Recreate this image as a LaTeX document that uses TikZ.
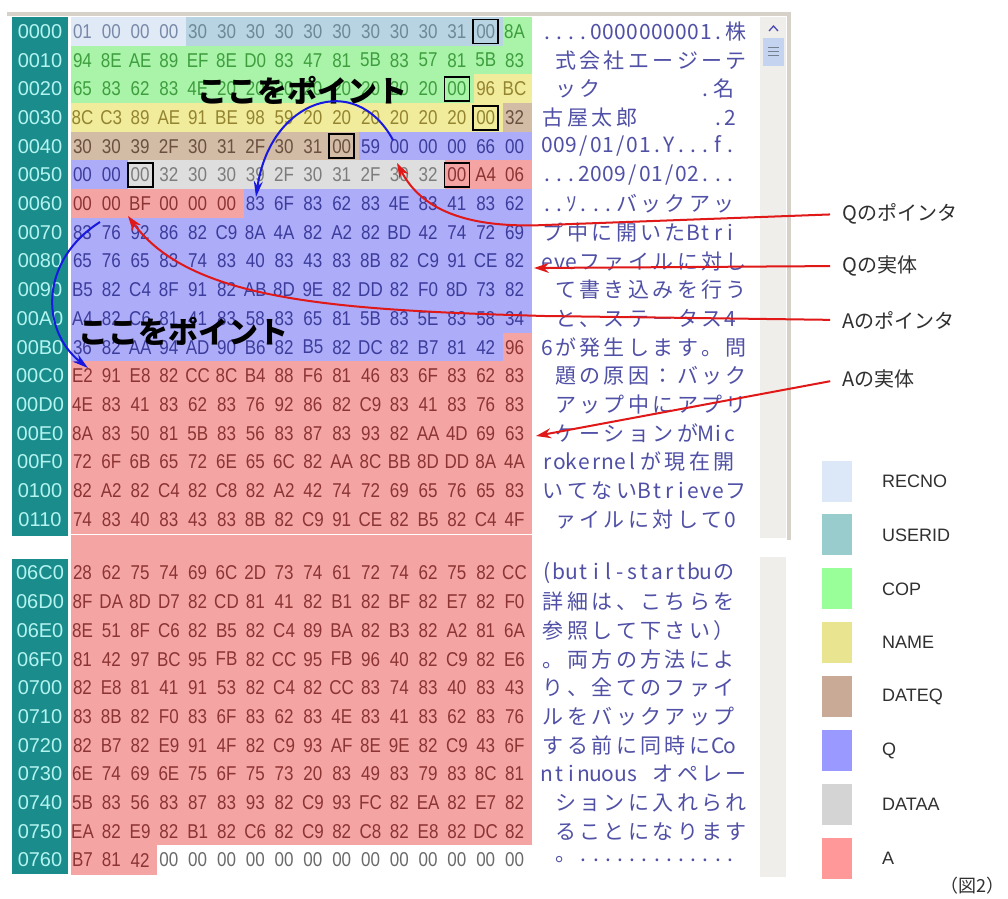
\documentclass[tikz,border=0pt]{standalone}
\usepackage{fontspec}
\usepackage{graphicx}
\setmainfont{Liberation Sans}
\newfontfamily\cjk{Noto Sans CJK JP}
\usetikzlibrary{arrows.meta}

\definecolor{recnoBG}{HTML}{E0EAF6}
\definecolor{useridBG}{HTML}{B8D4E2}
\definecolor{copBG}{HTML}{AAF4AA}
\definecolor{nameBG}{HTML}{F0EC9C}
\definecolor{dateqBG}{HTML}{D2BCA6}
\definecolor{qBG}{HTML}{ACACF8}
\definecolor{dataaBG}{HTML}{DEDEDE}
\definecolor{aBG}{HTML}{F5A4A4}
\definecolor{recnoFG}{HTML}{7888A8}
\definecolor{useridFG}{HTML}{6E8898}
\definecolor{copFG}{HTML}{3E9E3E}
\definecolor{nameFG}{HTML}{948430}
\definecolor{dateqFG}{HTML}{6A5040}
\definecolor{qFG}{HTML}{3C3C9C}
\definecolor{dataaFG}{HTML}{7C7C7C}
\definecolor{aFG}{HTML}{8C3434}
\definecolor{zeroFG}{HTML}{6A6A6A}
\definecolor{addrBG}{HTML}{1A8C8C}
\definecolor{addrFG}{HTML}{B4F4F0}
\definecolor{txtC}{HTML}{5050A6}
\definecolor{lblC}{HTML}{303030}
\definecolor{frameC}{HTML}{D6D2CA}
\definecolor{sbC}{HTML}{F0EEEA}
\definecolor{thumbC}{HTML}{C4D4F0}
\definecolor{arrRed}{HTML}{E01818}
\definecolor{arrBlue}{HTML}{1818E0}
\definecolor{swRecno}{HTML}{DCE8F8}
\definecolor{swUserid}{HTML}{99CCCC}
\definecolor{swCop}{HTML}{99FF99}
\definecolor{swName}{HTML}{E8E490}
\definecolor{swDateq}{HTML}{C8AA96}
\definecolor{swQ}{HTML}{9999FF}
\definecolor{swDataa}{HTML}{D4D4D4}
\definecolor{swA}{HTML}{FF9999}

\newcommand\hexsz{\fontsize{20}{20}\selectfont}
\newcommand\hx[1]{\scalebox{0.85}[1]{#1}}
\newlength\hwid \setlength\hwid{12.2pt}
\newlength\fwid \setlength\fwid{24.4pt}
\makeatletter
\def\gt@end{\gt@end}
\newcommand\gridtext[1]{\gt@#1\gt@end}
\def\gt@#1{\ifx#1\gt@end\else\gt@cell{#1}\expandafter\gt@\fi}
\def\gt@cell#1{\ifx#1_\hbox to\hwid{}\else\ifnum`#1<"2000 \hbox to\hwid{\hss#1\hss}\else\ifnum`#1>"FF60 \hbox to\hwid{\hss#1\hss}\else\hbox to\fwid{\hss#1\hss}\fi\fi\fi}
\makeatother

\newcommand\cellstyle[1]{%
  \ifnum#1<4 \def\bgc{recnoBG}\def\fgc{recnoFG}%
  \else\ifnum#1<15 \def\bgc{useridBG}\def\fgc{useridFG}%
  \else\ifnum#1<46 \def\bgc{copBG}\def\fgc{copFG}%
  \else\ifnum#1<63 \def\bgc{nameBG}\def\fgc{nameFG}%
  \else\ifnum#1<74 \def\bgc{dateqBG}\def\fgc{dateqFG}%
  \else\ifnum#1<82 \def\bgc{qBG}\def\fgc{qFG}%
  \else\ifnum#1<93 \def\bgc{dataaBG}\def\fgc{dataaFG}%
  \else\ifnum#1<102 \def\bgc{aBG}\def\fgc{aFG}%
  \else\ifnum#1<191 \def\bgc{qBG}\def\fgc{qFG}%
  \else\ifnum#1<1891 \def\bgc{aBG}\def\fgc{aFG}%
  \else \def\bgc{white}\def\fgc{zeroFG}%
  \fi\fi\fi\fi\fi\fi\fi\fi\fi\fi}

\begin{document}
\begin{tikzpicture}[x=1pt,y=-1pt,
  hexnode/.style={inner sep=0pt,font=\hexsz},
  addrnode/.style={inner sep=0pt,font=\hexsz,text=addrFG},
  txtnode/.style={inner sep=0pt,anchor=west,font={\cjk\fontsize{21}{21}\selectfont},text=txtC},
  ptlabel/.style={inner sep=0pt,font={\cjk\bfseries\fontsize{30}{30}\selectfont},text=black},
  sidelabel/.style={inner sep=0pt,anchor=west,font={\cjk\fontsize{20}{20}\selectfont},text=lblC},
  leglabel/.style={inner sep=0pt,anchor=west,font={\fontsize{18}{18}\selectfont},text=lblC},
  swatch/.style={minimum width=30pt,minimum height=41pt,inner sep=0pt},
  nullbox/.style={draw=black,line width=1.8pt,minimum width=25pt,minimum height=24pt,inner sep=0pt},
  redarrow/.style={draw=arrRed,line width=2pt,-{Stealth[length=15pt,width=10pt]}},
  bluearrow/.style={draw=arrBlue,line width=2pt,-{Stealth[length=16pt,width=9pt]}}]

\useasboundingbox (0,0) rectangle (1008,898);
\fill[white] (0,0) rectangle (1008,898);

% window frame and scrollbar
\fill[frameC] (7,12) rectangle (791,16);
\fill[sbC] (760,17) rectangle (786,538);
\fill[sbC] (760,557) rectangle (786,877);
\fill[frameC] (786.5,12) rectangle (790.5,540);
\fill[thumbC] (763,38) rectangle (784,66);
\draw[color=thumbC!60!black,line width=0.8pt] (768,47)--(779,47) (768,51)--(779,51) (768,55)--(779,55);
\draw[color=blue!40!gray,line width=1.3pt] (769,31)--(773.5,26)--(778,31);

% address column
\fill[addrBG] (12,17.2) rectangle (68,535.8);
\fill[addrBG] (12,558.7) rectangle (68,874.3);
\foreach \a [count=\r from 0] in {0000,0010,0020,0030,0040,0050,0060,0070,0080,0090,00A0,00B0,00C0,00D0,00E0,00F0,0100,0110}
  \node[addrnode] (ad\r) at (40,{31.5+28.7*\r}) {\a};
\foreach \a [count=\r from 0] in {06C0,06D0,06E0,06F0,0700,0710,0720,0730,0740,0750,0760}
  \node[addrnode] (bd\r) at (40,{573+28.7*\r}) {\a};

% gap between the two blocks
\fill[aBG] (71,535.3) rectangle (531.8,558.9);

% hex block 1
\foreach \rowbytes [count=\r from 0] in {%
{01,00,00,00,30,30,30,30,30,30,30,30,30,31,00,8A},
{94,8E,AE,89,EF,8E,D0,83,47,81,5B,83,57,81,5B,83},
{65,83,62,83,4E,20,20,20,20,20,20,20,20,00,96,BC},
{8C,C3,89,AE,91,BE,98,59,20,20,20,20,20,20,00,32},
{30,30,39,2F,30,31,2F,30,31,00,59,00,00,00,66,00},
{00,00,00,32,30,30,39,2F,30,31,2F,30,32,00,A4,06},
{00,00,BF,00,00,00,83,6F,83,62,83,4E,83,41,83,62},
{83,76,92,86,82,C9,8A,4A,82,A2,82,BD,42,74,72,69},
{65,76,65,83,74,83,40,83,43,83,8B,82,C9,91,CE,82},
{B5,82,C4,8F,91,82,AB,8D,9E,82,DD,82,F0,8D,73,82},
{A4,82,C6,81,41,83,58,83,65,81,5B,83,5E,83,58,34},
{36,82,AA,94,AD,90,B6,82,B5,82,DC,82,B7,81,42,96},
{E2,91,E8,82,CC,8C,B4,88,F6,81,46,83,6F,83,62,83},
{4E,83,41,83,62,83,76,92,86,82,C9,83,41,83,76,83},
{8A,83,50,81,5B,83,56,83,87,83,93,82,AA,4D,69,63},
{72,6F,6B,65,72,6E,65,6C,82,AA,8C,BB,8D,DD,8A,4A},
{82,A2,82,C4,82,C8,82,A2,42,74,72,69,65,76,65,83},
{74,83,40,83,43,83,8B,82,C9,91,CE,82,B5,82,C4,4F}%
}{%
  \foreach \b [count=\c from 0] in \rowbytes {%
    \pgfmathtruncatemacro\off{\r*16+\c}%
    \cellstyle{\off}%
    \fill[fill=\bgc] ({71+28.8*\c-0.3},{17.15+28.7*\r-0.3}) rectangle ({71+28.8*(\c+1)+0.3},{17.15+28.7*(\r+1)+0.3});
    \node[hexnode,text=\fgc] (h\off) at ({82.5+28.8*\c},{31.5+28.7*\r}) {\hx{\b}};
  }
}

% hex block 2
\foreach \rowbytes [count=\r from 0] in {%
{28,62,75,74,69,6C,2D,73,74,61,72,74,62,75,82,CC},
{8F,DA,8D,D7,82,CD,81,41,82,B1,82,BF,82,E7,82,F0},
{8E,51,8F,C6,82,B5,82,C4,89,BA,82,B3,82,A2,81,6A},
{81,42,97,BC,95,FB,82,CC,95,FB,96,40,82,C9,82,E6},
{82,E8,81,41,91,53,82,C4,82,CC,83,74,83,40,83,43},
{83,8B,82,F0,83,6F,83,62,83,4E,83,41,83,62,83,76},
{82,B7,82,E9,91,4F,82,C9,93,AF,8E,9E,82,C9,43,6F},
{6E,74,69,6E,75,6F,75,73,20,83,49,83,79,83,8C,81},
{5B,83,56,83,87,83,93,82,C9,93,FC,82,EA,82,E7,82},
{EA,82,E9,82,B1,82,C6,82,C9,82,C8,82,E8,82,DC,82},
{B7,81,42,00,00,00,00,00,00,00,00,00,00,00,00,00}%
}{%
  \foreach \b [count=\c from 0] in \rowbytes {%
    \pgfmathtruncatemacro\off{1728+\r*16+\c}%
    \cellstyle{\off}%
    \fill[fill=\bgc] ({71+28.8*\c-0.3},{558.65+28.7*\r-0.3}) rectangle ({71+28.8*(\c+1)+0.3},{558.65+28.7*(\r+1)+0.3});
    \node[hexnode,text=\fgc] (h\off) at ({82.5+28.8*\c},{573+28.7*\r}) {\hx{\b}};
  }
}

% null terminator boxes
\node[nullbox] (nb0) at (h14) {};
\node[nullbox] (nb1) at (h45) {};
\node[nullbox] (nb2) at (h62) {};
\node[nullbox] (nb3) at (h73) {};
\node[nullbox] (nb4) at (h82) {};
\node[nullbox] (nb5) at (h93) {};

% text column
\node[txtnode] (tx0) at (541,31.5) {\gridtext{....0000000001.株}};
\node[txtnode] (tx1) at (541,60.2) {\gridtext{_式会社エージーテ}};
\node[txtnode] (tx2) at (541,88.9) {\gridtext{_ック________.名}};
\node[txtnode] (tx3) at (541,117.6) {\gridtext{古屋太郎______.2}};
\node[txtnode] (tx4) at (541,146.3) {\gridtext{009/01/01.Y...f.}};
\node[txtnode] (tx5) at (541,175.0) {\gridtext{...2009/01/02...}};
\node[txtnode] (tx6) at (541,203.7) {\gridtext{..ｿ...バックアッ}};
\node[txtnode] (tx7) at (541,232.4) {\gridtext{プ中に開いたBtri}};
\node[txtnode] (tx8) at (541,261.1) {\gridtext{eveファイルに対し}};
\node[txtnode] (tx9) at (541,289.8) {\gridtext{_て書き込みを行う}};
\node[txtnode] (tx10) at (541,318.5) {\gridtext{_と、ステータス4}};
\node[txtnode] (tx11) at (541,347.2) {\gridtext{6が発生します。問}};
\node[txtnode] (tx12) at (541,375.9) {\gridtext{_題の原因：バック}};
\node[txtnode] (tx13) at (541,404.6) {\gridtext{_アップ中にアプリ}};
\node[txtnode] (tx14) at (541,433.3) {\gridtext{_ケーションがMic}};
\node[txtnode] (tx15) at (541,462.0) {\gridtext{rokernelが現在開}};
\node[txtnode] (tx16) at (541,490.7) {\gridtext{いてないBtrieveフ}};
\node[txtnode] (tx17) at (541,519.4) {\gridtext{_ァイルに対して0}};
\node[txtnode] (ty0) at (541,573.0) {\gridtext{(butil-startbuの}};
\node[txtnode] (ty1) at (541,601.7) {\gridtext{詳細は、こちらを}};
\node[txtnode] (ty2) at (541,630.4) {\gridtext{参照して下さい）}};
\node[txtnode] (ty3) at (541,659.1) {\gridtext{。両方の方法によ}};
\node[txtnode] (ty4) at (541,687.8) {\gridtext{り、全てのファイ}};
\node[txtnode] (ty5) at (541,716.5) {\gridtext{ルをバックアップ}};
\node[txtnode] (ty6) at (541,745.2) {\gridtext{する前に同時にCo}};
\node[txtnode] (ty7) at (541,773.9) {\gridtext{ntinuous_オペレー}};
\node[txtnode] (ty8) at (541,802.6) {\gridtext{_ションに入れられ}};
\node[txtnode] (ty9) at (541,831.3) {\gridtext{_ることになります}};
\node[txtnode] (ty10) at (541,860.0) {\gridtext{_。.............}};

% point labels
\node[ptlabel] (pt1) at (302,90) {ここをポイント};
\node[ptlabel] (pt2) at (183,331) {ここをポイント};

% side labels
\node[sidelabel] (lqp) at (842,214) {Qのポインタ};
\node[sidelabel] (lqe) at (842,266) {Qの実体};
\node[sidelabel] (lap) at (842,320) {Aのポインタ};
\node[sidelabel] (lae) at (842,379) {Aの実体};

% legend
\foreach \nm/\col [count=\k from 0] in {RECNO/swRecno,USERID/swUserid,COP/swCop,NAME/swName,DATEQ/swDateq,Q/swQ,DATAA/swDataa,A/swA}{
  \node[swatch,fill=\col] (sw\k) at (837,{481+53.9*\k}) {};
  \node[leglabel] (lg\k) at (882,{481+53.9*\k}) {\nm};
}
\node[inner sep=0pt,font={\cjk\fontsize{18}{18}\selectfont},text=lblC] (cap) at (972,886) {（図2）};

% red arrows
\coordinate (qptrT) at (397,163);
\coordinate (qentT) at (534,268);
\coordinate (aptrT) at (128,216);
\coordinate (aentT) at (536,436);
\coordinate (qbend) at (545,225);
\coordinate (abend) at (545,316);
\draw[redarrow,shorten <=12pt] (lqp.west) -- (qbend) .. controls (455,229) and (418,203) .. (qptrT);
\draw[redarrow,shorten <=12pt] (lqe.west) -- (qentT);
\draw[redarrow,shorten <=12pt] (lap.west) -- (abend) .. controls (330,310) and (190,300) .. (aptrT);
\draw[redarrow,shorten <=12pt] (lae.west) -- (aentT);

% blue arrows
\coordinate (qsrc) at (393,140);
\coordinate (qdst) at (256,197);
\coordinate (asrc) at (100,222);
\coordinate (adst) at (88,368);
\draw[bluearrow] (qsrc) .. controls (355,70) and (270,100) .. (qdst);
\draw[bluearrow] (asrc) .. controls (40,260) and (40,330) .. (adst);
\end{tikzpicture}
\end{document}
